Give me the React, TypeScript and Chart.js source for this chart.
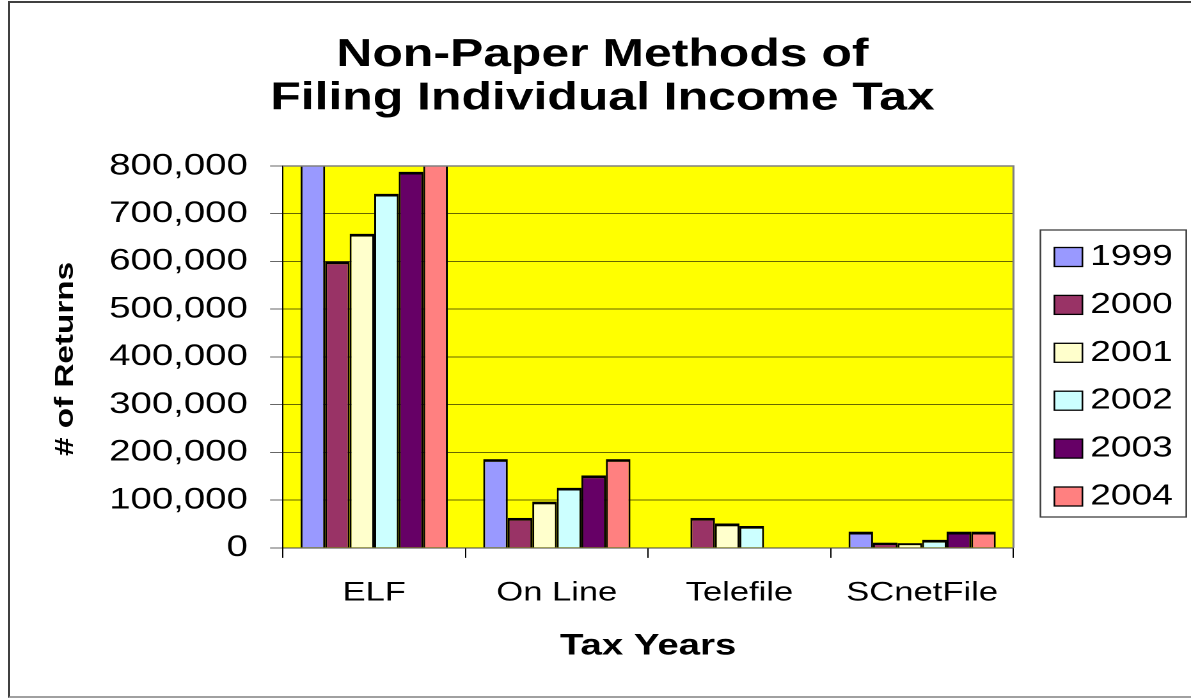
import React, { useEffect, useRef } from 'react';
import { Chart, registerables } from 'chart.js';

Chart.register(...registerables);

// ---------- data ----------
const categories = ['ELF', 'On Line', 'Telefile', 'SCnetFile'];
const seriesLabels = ['1999', '2000', '2001', '2002', '2003', '2004'];
const values1999 = [820000, 186000, null, 34000];
const values2000 = [600000, 63000, 63000, 11000];
const values2001 = [658000, 97000, 51000, 10000];
const values2002 = [742000, 126000, 46000, 17000];
const values2003 = [788000, 152000, null, 34000];
const values2004 = [840000, 186000, null, 34000];
const seriesValues = [values1999, values2000, values2001, values2002, values2003, values2004];
const seriesColors = ['#9999FF', '#993366', '#FFFFCC', '#CCFFFF', '#660066', '#FF8080'];
const yMin = 0;
const yMax = 800000;
const yStep = 100000;
const titleLines = ['Non-Paper Methods of', 'Filing Individual Income Tax'];
const xTitle = 'Tax Years';
const yTitle = '# of Returns';

// ---------- layout ----------
const W = 1191;
const H = 698;
const CW = 931;
const SX = W / CW;
const FONT = "'Liberation Sans', Arial, Helvetica, sans-serif";

const TITLE = { cx: 470.9, y0: 55.3, lineGap: 43.4, size: 39 };
const LEGEND = { x: 813.3, y: 230, w: 114, h: 287, swX: 824.2, swW: 21.9, swH: 19, textX: 852.3, row0: 257, rowGap: 47.9 };

const framePlugin = {
  id: 'framePlugin',
  beforeDraw(chart: any) {
    const { ctx, chartArea: a } = chart;
    ctx.save();
    ctx.fillStyle = '#FFFF00';
    ctx.fillRect(a.left, a.top, a.right - a.left, a.bottom - a.top);
    ctx.restore();
  },
  afterDraw(chart: any) {
    const { ctx, chartArea: a } = chart;
    // plot border top/right
    ctx.save();
    ctx.strokeStyle = '#808080';
    ctx.lineWidth = 1.6;
    ctx.beginPath();
    ctx.moveTo(a.left, a.top);
    ctx.lineTo(a.right, a.top);
    ctx.lineTo(a.right, a.bottom);
    ctx.stroke();
    ctx.restore();

    // chart title
    ctx.save();
    ctx.font = `bold ${TITLE.size}px ${FONT}`;
    ctx.fillStyle = '#000';
    ctx.textAlign = 'center';
    ctx.textBaseline = 'middle';
    titleLines.forEach((line, i) => ctx.fillText(line, TITLE.cx, TITLE.y0 + i * TITLE.lineGap));
    ctx.restore();

    // y axis title (stretched along its own direction)
    ctx.save();
    ctx.font = `bold 26px ${FONT}`;
    ctx.fillStyle = '#000';
    ctx.translate(57, (a.top + a.bottom) / 2 + 2);
    ctx.rotate(-Math.PI / 2);
    ctx.scale(SX, 1 / SX);
    ctx.textAlign = 'center';
    ctx.textBaseline = 'alphabetic';
    ctx.fillText(yTitle, 0, 0);
    ctx.restore();

    // legend
    ctx.save();
    ctx.strokeStyle = '#404040';
    ctx.lineWidth = 1.3;
    ctx.strokeRect(LEGEND.x, LEGEND.y, LEGEND.w, LEGEND.h);
    ctx.font = `29px ${FONT}`;
    ctx.textAlign = 'left';
    ctx.textBaseline = 'middle';
    chart.data.datasets.forEach((ds: any, i: number) => {
      const cy = LEGEND.row0 + i * LEGEND.rowGap;
      ctx.fillStyle = ds.backgroundColor;
      ctx.fillRect(LEGEND.swX, cy - LEGEND.swH / 2, LEGEND.swW, LEGEND.swH);
      ctx.strokeStyle = '#000';
      ctx.lineWidth = 1.3;
      ctx.strokeRect(LEGEND.swX, cy - LEGEND.swH / 2, LEGEND.swW, LEGEND.swH);
      ctx.fillStyle = '#000';
      ctx.fillText(ds.label, LEGEND.textX, cy);
    });
    ctx.restore();
  },
};

export default function App() {
  const ref = useRef<HTMLCanvasElement | null>(null);

  useEffect(() => {
    const canvas = ref.current;
    if (!canvas) return;
    canvas.width = CW;
    canvas.height = H;
    const chart = new Chart(canvas, {
      type: 'bar',
      data: {
        labels: categories,
        datasets: seriesLabels.map((label, i) => ({
          label,
          data: seriesValues[i],
          backgroundColor: seriesColors[i],
          borderColor: '#000',
          borderWidth: { top: 2.8, left: 1.5, right: 1.5, bottom: 0 },
          borderSkipped: 'start',
          categoryPercentage: 0.806,
          barPercentage: 1,
        })),
      },
      options: {
        animation: false,
        responsive: false,
        devicePixelRatio: 2,
        layout: { padding: { left: 10, right: 138.8, top: 166, bottom: 10 } },
        plugins: {
          legend: { display: false },
          tooltip: { enabled: false },
          title: { display: false },
        },
        scales: {
          x: {
            offset: true,
            grid: { display: true, drawOnChartArea: false, drawTicks: true, tickLength: 10, tickColor: '#000', offset: true },
            border: { display: true, color: '#404040', width: 1 },
            ticks: { color: '#000', font: { family: FONT, size: 27 }, padding: 19, maxRotation: 0, autoSkip: false },
            title: {
              display: true,
              text: xTitle,
              color: '#000',
              font: { family: FONT, size: 30, weight: 'bold', lineHeight: 1.2 },
              padding: { top: 0, bottom: 23.7 },
            },
          },
          y: {
            min: yMin,
            max: yMax,
            ticks: {
              stepSize: yStep,
              color: '#000',
              font: { family: FONT, size: 30 },
              padding: 17.3,
              callback: (v: any) => Number(v).toLocaleString('en-US'),
            },
            grid: { color: 'rgba(0,0,0,0.6)', lineWidth: 1, tickLength: 10, drawTicks: true },
            border: { display: true, color: '#000', width: 1 },
            afterFit: (s: any) => { s.width = 211.1; },
          },
        },
      },
      plugins: [framePlugin],
    } as any);
    return () => chart.destroy();
  }, []);

  return (
    <div style={{ position: 'fixed', left: 0, top: 0, width: W, height: H, overflow: 'hidden', background: '#fff' }}>
      <div style={{ position: 'absolute', left: 0, top: 0, width: CW, height: H, transform: `scaleX(${SX})`, transformOrigin: '0 0' }}>
        <canvas ref={ref} width={CW} height={H} style={{ display: 'block' }} />
      </div>
      <div
        style={{
          position: 'absolute', left: 8, top: 1, width: 1300, height: 697, boxSizing: 'border-box',
          borderLeft: '2px solid #404040', borderTop: '2px solid #404040', borderBottom: '2px solid #a0a0a0',
          pointerEvents: 'none',
        }}
      />
    </div>
  );
}
